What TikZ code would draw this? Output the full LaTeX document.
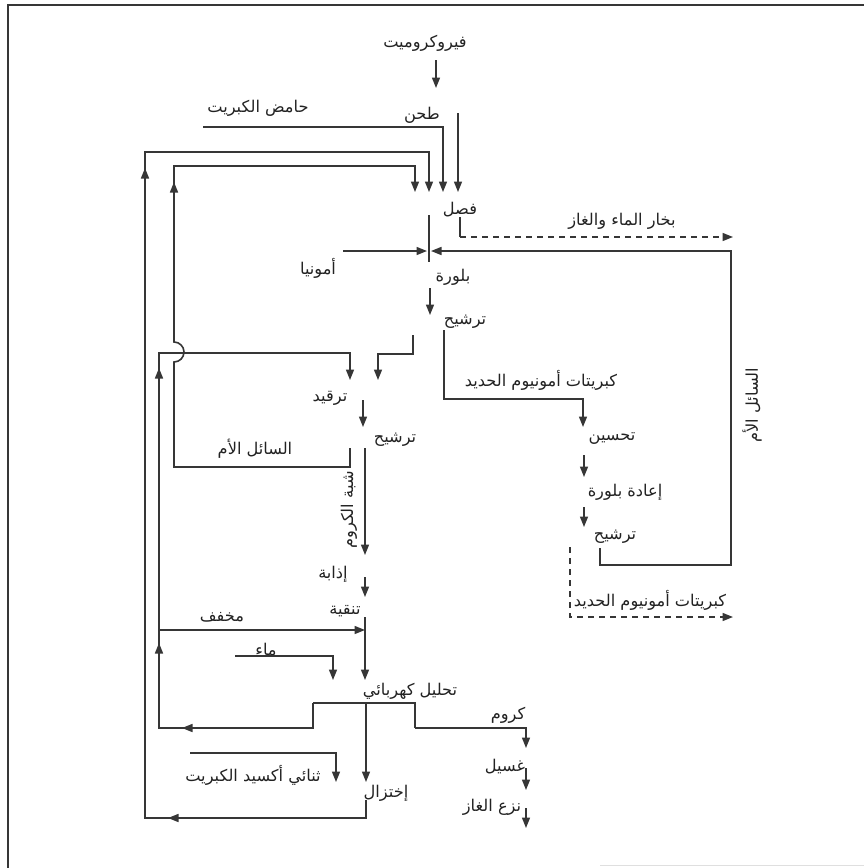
\documentclass[tikz,border=0pt]{standalone}
\usepackage{fontspec}
\newfontfamily\arabicfont[Script=Arabic]{DejaVu Sans}
\TeXXeTstate=1
\usetikzlibrary{arrows.meta}
\definecolor{ln}{HTML}{363636}
\definecolor{tx}{HTML}{222222}
\newcommand{\artxt}[1]{\beginR #1\endR}
\begin{document}
\begin{tikzpicture}[x=1pt,y=-1pt,
  lbl/.style={inner sep=0pt, text=tx, font=\arabicfont\fontsize{16.2}{18}\selectfont},
  flow/.style={draw=ln, line width=1.6pt},
  arr/.style={flow, -{Triangle[width=8pt,length=10.5pt]}},
  dsh/.style={flow, dash pattern=on 6pt off 5pt},
  darr/.style={dsh, -{Triangle[width=8pt,length=10.5pt]}},
  frame/.style={draw=ln, line width=1.6pt}]
\useasboundingbox (0,0) rectangle (864,868);
% frame
\coordinate (fTL) at (8,5); \coordinate (fTR) at (864,5); \coordinate (fBL) at (8,868);
\draw[frame] (fTR) -- (fTL) -- (fBL);
\coordinate (fB1) at (600,865); \coordinate (fB2) at (864,865);
\draw[draw=gray!25, line width=1pt] (fB1) -- (fB2);

% labels
\node[lbl] (ferro) at (425,43) {\artxt{فيروكروميت}};
\node[lbl] (tahn) at (422,115) {\artxt{طحن}};
\node[lbl] (acid) at (258,108) {\artxt{حامض الكبريت}};
\node[lbl] (fasl) at (460,210) {\artxt{فصل}};
\node[lbl] (vapor) at (622,221) {\artxt{بخار الماء والغاز}};
\node[lbl] (ammonia) at (318,268) {\artxt{أمونيا}};
\node[lbl] (cryst) at (453,277) {\artxt{بلورة}};
\node[lbl] (filtA) at (465,322) {\artxt{ترشيح}};
\node[lbl] (fasA) at (541,380) {\artxt{كبريتات أمونيوم الحديد}};
\node[lbl] (improve) at (612,439) {\artxt{تحسين}};
\node[lbl] (recryst) at (625,492) {\artxt{إعادة بلورة}};
\node[lbl] (filtC) at (615,537) {\artxt{ترشيح}};
\node[lbl] (fasB) at (650,600) {\artxt{كبريتات أمونيوم الحديد}};
\node[lbl, rotate=90] (motherB) at (752,405) {\artxt{السائل الأم}};
\node[lbl] (aging) at (330,398) {\artxt{ترقيد}};
\node[lbl] (filtB) at (395,440) {\artxt{ترشيح}};
\node[lbl] (motherA) at (255,449) {\artxt{السائل الأم}};
\node[lbl, rotate=90] (alum) at (349,510) {\artxt{شبة الكروم}};
\node[lbl] (dissolve) at (333,574) {\artxt{إذابة}};
\node[lbl] (purify) at (345,611) {\artxt{تنقية}};
\node[lbl] (dilute) at (222,617) {\artxt{مخفف}};
\node[lbl] (water) at (266,650) {\artxt{ماء}};
\node[lbl] (electro) at (410,691) {\artxt{تحليل كهربائي}};
\node[lbl] (chrome) at (508,715) {\artxt{كروم}};
\node[lbl] (wash) at (505,767) {\artxt{غسيل}};
\node[lbl] (degas) at (492,807) {\artxt{نزع الغاز}};
\node[lbl] (so2) at (253,775) {\artxt{ثنائي أكسيد الكبريت}};
\node[lbl] (reduce) at (386,793) {\artxt{إختزال}};

% coordinates
\coordinate (c1a) at (436,60); \coordinate (c1b) at (436,88);
\coordinate (t1) at (458,113); \coordinate (t2) at (458,192);
\coordinate (a1) at (203,127); \coordinate (a2) at (443,192);
\coordinate (o1) at (366,800); \coordinate (o2) at (366,818);
\coordinate (o3) at (145,818); \coordinate (o4) at (145,152);
\coordinate (o5) at (429,192);
\coordinate (l1) at (350,448); \coordinate (l2) at (350,467);
\coordinate (l3) at (174,467); \coordinate (l4) at (174,362);
\coordinate (l5) at (174,166); \coordinate (l6) at (415,192);
\coordinate (e1) at (313,703); \coordinate (e2) at (415,703);
\coordinate (e3) at (415,728); \coordinate (e4) at (526,748);
\coordinate (e5) at (313,728); \coordinate (e6) at (159,728);
\coordinate (e7) at (159,353); \coordinate (e8) at (350,380);
\coordinate (d1) at (159,630); \coordinate (d2) at (365,630);
\coordinate (f1) at (413,335); \coordinate (f2) at (413,354);
\coordinate (f3) at (378,380);
\coordinate (s1) at (444,330); \coordinate (s2) at (444,399);
\coordinate (s3) at (583,427);
\coordinate (i1) at (584,455); \coordinate (i2) at (584,477);
\coordinate (r1) at (584,507); \coordinate (r2) at (584,527);
\coordinate (m1) at (600,548); \coordinate (m2) at (600,565);
\coordinate (m3) at (731,565); \coordinate (m4) at (731,251);
\coordinate (m5) at (431,251);
\coordinate (n1) at (343,251); \coordinate (n2) at (427,251);
\coordinate (v1) at (460,217); \coordinate (v2) at (460,237);
\coordinate (v3) at (733,237);
\coordinate (w1) at (570,547); \coordinate (w2) at (570,617);
\coordinate (w3) at (733,617);
\coordinate (j1) at (429,215); \coordinate (j2) at (429,262);
\coordinate (k1) at (430,288); \coordinate (k2) at (430,315);
\coordinate (x1) at (366,703); \coordinate (x2) at (366,782);
\coordinate (q1) at (190,753); \coordinate (q2) at (336,782);
\coordinate (h1) at (235,656); \coordinate (h2) at (333,680);
\coordinate (p1) at (365,617); \coordinate (p2) at (365,680);
\coordinate (g1) at (365,577); \coordinate (g2) at (365,597);
\coordinate (b1) at (365,448); \coordinate (b2) at (365,555);
\coordinate (z1) at (363,400); \coordinate (z2) at (363,427);
\coordinate (u1) at (526,768); \coordinate (u2) at (526,790);
\coordinate (y1) at (526,808); \coordinate (y2) at (526,828);
% mid-arrow coordinates
\coordinate (ma1) at (145,186); \coordinate (ma2) at (145,168);
\coordinate (mb1) at (174,200); \coordinate (mb2) at (174,182);
\coordinate (mc1) at (159,386); \coordinate (mc2) at (159,368);
\coordinate (md1) at (159,661); \coordinate (md2) at (159,643);
\coordinate (me1) at (200,728); \coordinate (me2) at (182,728);
\coordinate (mf1) at (186,818); \coordinate (mf2) at (168,818);

% connectors
\draw[arr] (c1a) -- (c1b);
\draw[arr] (t1) -- (t2);
\draw[arr] (a1) -| (a2);
\draw[arr] (o1) -- (o2) -- (o3) -- (o4) -| (o5);
\draw[arr] (l1) -- (l2) -- (l3) -- (l4) arc[start angle=-90, end angle=90, radius=10pt] -- (l5) -| (l6);
\draw[flow] (e1) -- (e2) -- (e3);
\draw[arr] (e3) -| (e4);
\draw[arr] (e1) -- (e5) -- (e6) -- (e7) -| (e8);
\draw[arr] (d1) -- (d2);
\draw[arr] (f1) -- (f2) -| (f3);
\draw[arr] (s1) -- (s2) -| (s3);
\draw[arr] (i1) -- (i2);
\draw[arr] (r1) -- (r2);
\draw[arr] (m1) -- (m2) -- (m3) -- (m4) -- (m5);
\draw[arr] (n1) -- (n2);
\draw[flow] (v1) -- (v2);
\draw[darr] (v2) -- (v3);
\draw[darr] (w1) -- (w2) -- (w3);
\draw[flow] (j1) -- (j2);
\draw[arr] (k1) -- (k2);
\draw[arr] (x1) -- (x2);
\draw[arr] (q1) -| (q2);
\draw[arr] (h1) -| (h2);
\draw[arr] (p1) -- (p2);
\draw[arr] (g1) -- (g2);
\draw[arr] (b1) -- (b2);
\draw[arr] (z1) -- (z2);
\draw[arr] (u1) -- (u2);
\draw[arr] (y1) -- (y2);
% mid arrows
\draw[arr] (ma1) -- (ma2);
\draw[arr] (mb1) -- (mb2);
\draw[arr] (mc1) -- (mc2);
\draw[arr] (md1) -- (md2);
\draw[arr] (me1) -- (me2);
\draw[arr] (mf1) -- (mf2);
\end{tikzpicture}
\end{document}
